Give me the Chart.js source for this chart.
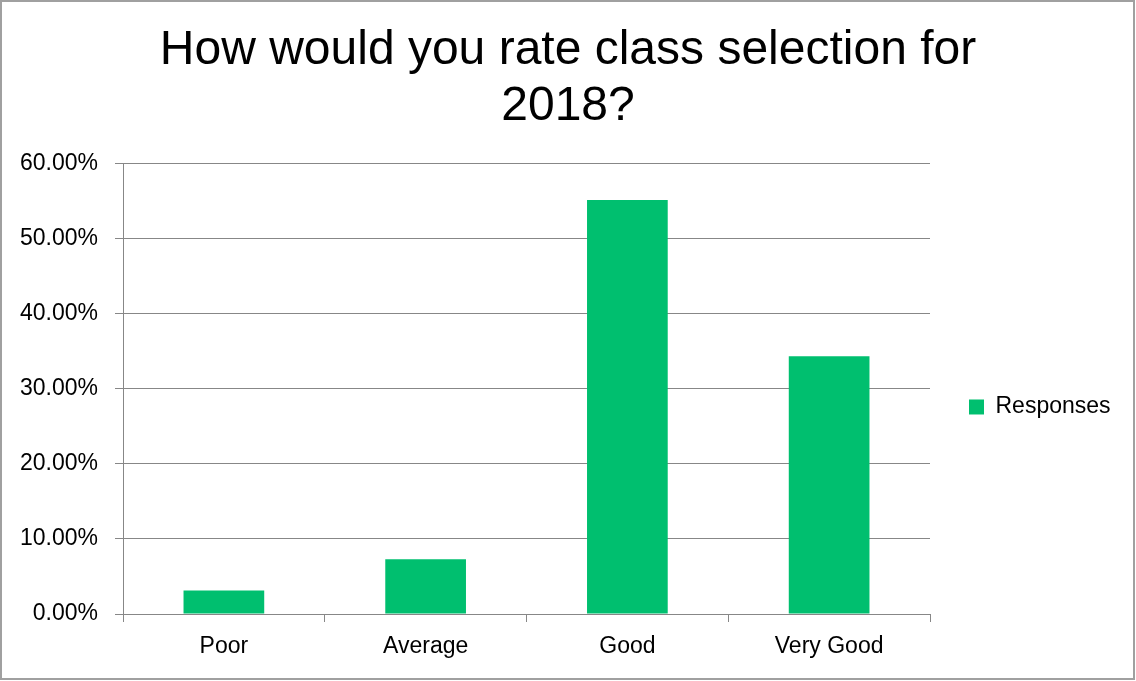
<!DOCTYPE html>
<html>
<head>
<meta charset="utf-8">
<script src="https://cdn.jsdelivr.net/npm/chart.js@4"></script>
<style>
  html, body { margin: 0; padding: 0; background: #fff; }
  #wrap { width: 1136px; height: 681px; }
</style>
</head>
<body>
<div id="wrap"><canvas id="chart" width="1136" height="681"></canvas></div>
<script>
const categories = ['Poor', 'Average', 'Good', 'Very Good'];
const responses = [3.13, 7.29, 55.21, 34.38];
const yTicks = [0, 10, 20, 30, 40, 50, 60];

const gray = '#878787';
const tickFont = { family: 'Liberation Sans', size: 23 };

// frame round the whole picture
const frame = {
    id: 'frame',
    afterDraw(chart) {
        const ctx = chart.ctx;
        ctx.save();
        ctx.strokeStyle = '#a0a0a0';
        ctx.lineWidth = 2;
        ctx.strokeRect(1, 1, chart.width - 3, chart.height - 3);
        ctx.restore();
    }
};

// fixed legend width so the plot ends where it should
const legendWidth = {
    id: 'legendWidth',
    beforeInit(chart) {
        const fit = chart.legend.fit;
        chart.legend.fit = function () {
            fit.bind(chart.legend)();
            this.width = 206;
        };
    }
};

new Chart(document.getElementById('chart'), {
    type: 'bar',
    data: {
        labels: categories,
        datasets: [{
            label: 'Responses',
            data: responses,
            backgroundColor: '#00bf6f',
            borderWidth: 0,
            categoryPercentage: 1,
            barPercentage: 0.4,
        }]
    },
    options: {
        responsive: false,
        animation: false,
        layout: { padding: 0 },
        plugins: {
            title: {
                display: true,
                text: ['How would you rate class selection for', '2018?'],
                color: '#000',
                font: { family: 'Liberation Sans', size: 48, weight: 'normal', lineHeight: 1.18 },
                padding: { top: 22, bottom: 28.7 },
            },
            legend: {
                position: 'right',
                fullSize: false,
                // empty title only pushes the entry down a little
                title: { display: true, text: ' ', padding: 6, font: { size: 20 } },
                labels: {
                    boxWidth: 15,
                    boxHeight: 15,
                    padding: 39,
                    color: '#000',
                    font: tickFont,
                }
            },
            tooltip: { enabled: false },
        },
        scales: {
            x: {
                afterFit: (s) => { s.height = 67; },
                grid: {
                    offset: true,
                    drawOnChartArea: false,
                    drawTicks: true,
                    tickLength: 8,
                    color: gray,
                },
                border: { color: gray, width: 1 },
                ticks: { color: '#000', font: tickFont, padding: 11 },
            },
            y: {
                min: 0,
                max: 60,
                afterFit: (s) => { s.width = 123; },
                afterBuildTicks: (s) => { s.ticks = yTicks.map(v => ({ value: v })); },
                grid: { color: gray, tickLength: 8 },
                border: { color: gray, width: 1 },
                ticks: {
                    color: '#000',
                    font: tickFont,
                    padding: 17,
                    callback: (v) => v.toFixed(2) + '%',
                },
            }
        }
    },
    plugins: [frame, legendWidth]
});
</script>
</body>
</html>
